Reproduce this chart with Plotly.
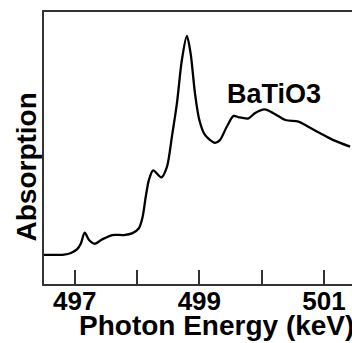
import plotly.graph_objects as go

# Photon energy (keV) and absorption (arb. units)
energy = [496.50, 496.83, 496.94, 497.04, 497.10, 497.16, 497.23, 497.32, 497.44,
          497.60, 497.79, 497.92, 498.03, 498.09, 498.14, 498.19, 498.26, 498.39,
          498.48, 498.56, 498.64, 498.72, 498.80, 498.86, 498.93, 499.00, 499.09,
          499.25, 499.33, 499.44, 499.55, 499.63, 499.79, 499.89, 500.05, 500.19,
          500.38, 500.59, 500.75, 500.94, 501.15, 501.42]
absorption = [0.107, 0.108, 0.114, 0.128, 0.150, 0.189, 0.162, 0.148, 0.164,
              0.180, 0.180, 0.186, 0.205, 0.247, 0.321, 0.382, 0.418, 0.392,
              0.431, 0.542, 0.664, 0.824, 0.912, 0.848, 0.701, 0.603, 0.548,
              0.519, 0.529, 0.578, 0.618, 0.613, 0.609, 0.628, 0.642, 0.628,
              0.603, 0.597, 0.578, 0.554, 0.529, 0.505]

tick_vals = [497, 498, 499, 500, 501]
tick_text = ["497", "", "499", "", "501"]

sample_label = "BaTiO3"
x_title = "Photon Energy (keV)"
y_title = "Absorption"

FONT = "Liberation Sans, Arial, Helvetica, sans-serif"
AXC = "#333333"

fig = go.Figure()
fig.add_trace(go.Scatter(
    x=energy, y=absorption, mode="lines",
    line=dict(color="black", width=2.3, shape="spline", smoothing=0.8),
    hoverinfo="skip", showlegend=False,
))

fig.update_layout(
    width=352, height=343,
    margin=dict(l=44, r=0, t=12, b=59),
    paper_bgcolor="white", plot_bgcolor="white",
    xaxis=dict(
        range=[496.507, 501.45],
        tickvals=tick_vals, ticktext=tick_text,
        ticks="inside", ticklen=14, tickwidth=1.5, tickcolor=AXC,
        showline=True, linecolor=AXC, linewidth=1.5, mirror=True,
        showgrid=False, zeroline=False,
        ticklabelstandoff=-7,
        tickfont=dict(family=FONT, size=26, color="black", weight="bold"),
    ),
    yaxis=dict(
        range=[0, 1],
        showticklabels=False, ticks="",
        showline=True, linecolor=AXC, linewidth=1.5, mirror=False,
        showgrid=False, zeroline=False,
    ),
    annotations=[
        dict(text=sample_label, x=499.41, y=0.70, xref="x", yref="y",
             xanchor="left", yanchor="middle", showarrow=False,
             font=dict(family=FONT, size=27, color="black", weight="bold")),
        dict(text=x_title, x=(76.7 - 44) / 308, y=-(308 - 284) / 272,
             xref="paper", yref="paper", xanchor="left", yanchor="top",
             showarrow=False,
             font=dict(family=FONT, size=28, color="black", weight="bold")),
        dict(text=y_title, x=(26 - 44) / 308, y=(284 - 167.5) / 272,
             xref="paper", yref="paper", xanchor="center", yanchor="middle",
             textangle=-90, showarrow=False,
             font=dict(family=FONT, size=28, color="black", weight="bold")),
    ],
)

fig.write_html("out.html")
